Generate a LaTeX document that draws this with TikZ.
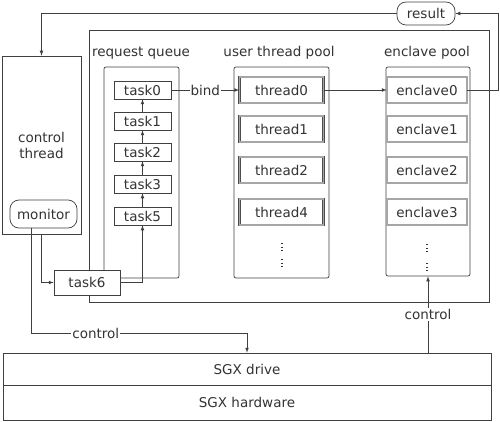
\documentclass[tikz,border=0pt]{standalone}
\usepackage{fontspec}
\setmainfont{DejaVu Sans}
\begin{document}
\begin{tikzpicture}[x=1pt,y=-1pt,>=latex,
    font=\fontsize{13.5pt}{16pt}\selectfont,
    every node/.style={text=black!80},
    line/.style={draw=black!75,line width=0.7pt},
    box/.style={line,fill=white,inner sep=0pt},
    task/.style={box,minimum width=57pt,minimum height=18pt},
    slot/.style={box,draw=black!70,line width=0.5pt,double=black!35,double distance=1.3pt,minimum height=26pt},
    more/.style={draw=black!80,line width=1.1pt,dash pattern=on 1.1pt off 2.4pt},
    lbl/.style={fill=white,inner sep=1pt}]
    \useasboundingbox(0,0)rectangle(500,422);

    % outer frame
    \draw[line](89,30)rectangle(489,302);

    \node[box,minimum width=79pt,minimum height=178pt,align=center](ctrl)at(41.5,145){control\\thread};
    \node[box,rounded corners=9pt,minimum width=67pt,minimum height=28pt](monitor)at(43.5,214){monitor};
    \node[box,rounded corners=9pt,minimum width=58pt,minimum height=23pt](result)at(426,13.5){result};

    % pools
    \node[box,rounded corners=2pt,minimum width=75pt,minimum height=211pt](queue)at(141.5,172.5){};
    \node[box,rounded corners=2pt,minimum width=95pt,minimum height=211pt](tpool)at(281.5,172.5){};
    \node[box,rounded corners=2pt,minimum width=84pt,minimum height=209pt](epool)at(428,171.5){};
    \draw(141,53)node{request queue};
    \draw(279,53)node{user thread pool};
    \draw(427,53)node{enclave pool};

    \foreach \n/\y in {0/90,1/121,2/152,3/184,5/216}
        \node[task](task\n)at(142.5,\y){task\n};
    \foreach \n/\y in {0/90,1/129,2/170,4/212}
        \node[slot,minimum width=84pt](thread\n)at(281.5,\y){thread\n};
    \foreach \n/\y in {0/90,1/129,2/170,3/212}
        \node[slot,minimum width=80pt](enclave\n)at(427,\y){enclave\n};
    % dots below the last slots
    \draw[more](282,243)--(282,252)(282,259)--(282,268);
    \draw[more](427,244)--(427,253)(427,263)--(427,272);

    \node[task,minimum width=66pt,minimum height=25pt](task6)at(87,282.5){task6};

    % SGX layers
    \node[box,minimum width=488pt,minimum height=32pt](drive)at(247,369){SGX drive};
    \node[box,minimum width=488pt,minimum height=35pt](hw)at(247,402.5){SGX hardware};

    % connectors
    \foreach \a/\b in {1/0,2/1,3/2,5/3}
        \draw[line,->](task\a)--(task\b);
    \draw[line,->](task6.east)-|(task5.south);
    \draw[line,->](ctrl.south)|-(task6.west);
    \draw[line,->](task0)--node[lbl]{bind}(thread0);
    \draw[line,->](thread0)--(enclave0);
    \draw[line,->](enclave0.east)--++(31,0)|-(result.east);
    \draw[line,->](result.west)-|(ctrl.north);
    \coordinate(turn)at(31,333);
    \draw[line,->](monitor.south-|turn)--(turn)--node[lbl,pos=0.3]{control}(turn-|drive.north)--(drive.north);
    \draw[line,->](drive.north-|epool.south)--node[lbl]{control}(epool.south);
\end{tikzpicture}
\end{document}
